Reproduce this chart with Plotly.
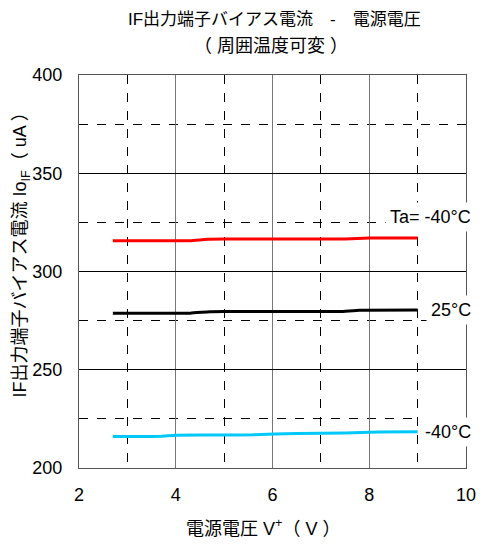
import plotly.graph_objects as go

# Data
vcc_red = [2.7, 3.5, 4.3, 4.65, 5.0, 6.0, 7.0, 7.5, 8.0, 9.0]
iout_red = [315.6, 315.6, 315.7, 316.4, 316.5, 316.5, 316.5, 316.6, 317.0, 317.1]
vcc_black = [2.7, 3.5, 4.3, 4.7, 5.0, 6.0, 7.0, 7.4, 7.8, 9.0]
iout_black = [278.8, 278.8, 278.8, 279.5, 279.6, 279.6, 279.6, 279.6, 280.3, 280.4]
vcc_cyan = [2.7, 3.3, 3.7, 4.0, 5.0, 5.6, 6.5, 7.5, 8.2, 9.0]
iout_cyan = [216.0, 216.0, 216.2, 216.7, 216.8, 216.9, 217.6, 217.8, 218.3, 218.5]

labels = ["Ta= -40°C", "25°C", "-40°C"]
label_y = [327.7, 280.4, 218.3]

title_1 = "IF出力端子バイアス電流　-　電源電圧"
title_2 = "（ 周囲温度可変 ）"
x_title = "電源電圧 V<sup>+</sup>（ V ）"
y_title = "IF出力端子バイアス電流 Io<sub>IF</sub>（ uA ）"

FONT = "Arial, Liberation Sans, Noto Sans CJK JP, sans-serif"
FS = 18

W, H = 487, 546
L, R, T, B = 79, 11, 75, 78
pw, ph = W - L - R, H - T - B


def px_x(p):
    return (p - L) / pw


def px_y(p):
    return (H - B - p) / ph


fig = go.Figure()
for xs, ys, col in [(vcc_red, iout_red, "#ff0000"),
                    (vcc_black, iout_black, "#000000"),
                    (vcc_cyan, iout_cyan, "#00c8f8")]:
    fig.add_trace(go.Scatter(x=xs, y=ys, mode="lines",
                             line=dict(color=col, width=3, shape="spline", smoothing=0.3),
                             showlegend=False))

fig.update_xaxes(range=[2, 10], dtick=2, tick0=2, showgrid=True, gridcolor="#777777", gridwidth=1,
                 minor=dict(dtick=1, tick0=2, showgrid=True, gridcolor="#000000", griddash="dash", gridwidth=1),
                 showline=True, linecolor="#555555", linewidth=1, mirror=True, ticks="",
                 ticklabelstandoff=10,
                 zeroline=False, tickfont=dict(size=FS, color="#000"))
fig.update_yaxes(range=[200, 400], dtick=50, showgrid=True, gridcolor="#000000", gridwidth=1,
                 minor=dict(dtick=25, showgrid=True, gridcolor="#000000", griddash="dash", gridwidth=1),
                 showline=True, linecolor="#555555", linewidth=1, mirror=True, ticks="",
                 ticklabelstandoff=12,
                 zeroline=False, tickfont=dict(size=FS, color="#000"))

anns = []
for t, y in zip(labels, label_y):
    anns.append(dict(x=px_x(486), xref="paper", y=y, yref="y", text=t, showarrow=False,
                     xanchor="right", yanchor="middle", bgcolor="white",
                     font=dict(size=FS, color="#000"), borderpad=4))

anns.append(dict(x=px_x(280), xref="paper", y=px_y(19), yref="paper",
                 text=title_1, showarrow=False,
                 xanchor="center", yanchor="middle", font=dict(size=17, color="#000")))
anns.append(dict(x=px_x(276), xref="paper", y=px_y(46), yref="paper",
                 text=title_2, showarrow=False,
                 xanchor="center", yanchor="middle", font=dict(size=FS, color="#000")))
anns.append(dict(x=px_x(268), xref="paper", y=px_y(527), yref="paper",
                 text=x_title, showarrow=False,
                 xanchor="center", yanchor="middle", font=dict(size=FS, color="#000")))
anns.append(dict(x=px_x(20), xref="paper", y=px_y(250), yref="paper",
                 text=y_title, showarrow=False, textangle=-90,
                 xanchor="center", yanchor="middle", font=dict(size=FS, color="#000")))

fig.update_layout(width=W, height=H, margin=dict(l=L, r=R, t=T, b=B),
                  plot_bgcolor="white", paper_bgcolor="white",
                  font=dict(family=FONT, size=FS, color="#000"),
                  annotations=anns)

fig.write_html("out.html")
